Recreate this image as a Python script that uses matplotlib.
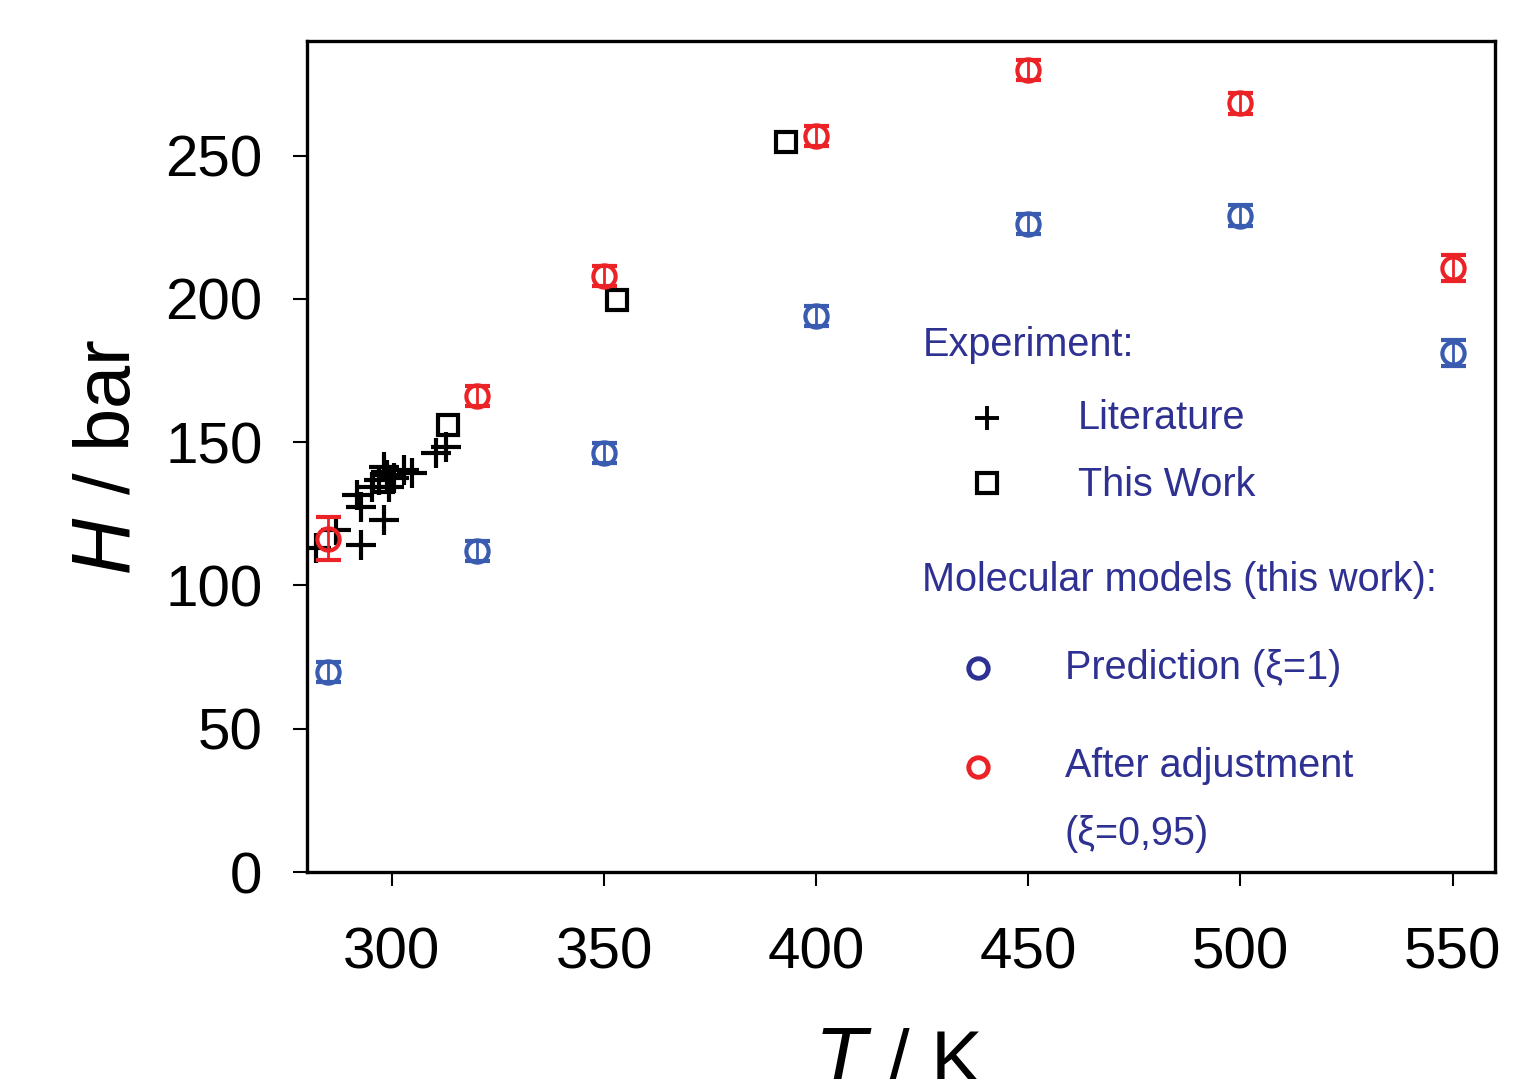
import matplotlib
matplotlib.use("Agg")
import matplotlib.pyplot as plt

plt.rcParams["font.family"] = ["Liberation Sans", "DejaVu Sans"]

# Experiment: literature values (crosses)
lit_T = [282.1, 286.8, 292.7, 298.1, 291.7, 292.7, 295.3, 298.1, 296.9, 299.3, 300.5, 298.8, 302.8, 304.7, 310.4, 312.7]
lit_H = [113.1, 119.4, 114.2, 122.9, 131.6, 127.4, 134.4, 141.4, 136.9, 134.4, 137.6, 138.6, 140.4, 139.3, 146.3, 148.4]

# Experiment: this work (squares)
exp_T = [298.0, 313.2, 353.1, 393.0]
exp_H = [136.0, 156.1, 199.7, 254.9]

# Molecular models
sim_T = [285, 320, 350, 400, 450, 500, 550]
pred_H = [69.8, 112.1, 146.3, 194.1, 226.3, 229.1, 181.2]
pred_err = [3.5, 3.5, 3.5, 3.5, 3.5, 3.5, 4.5]
adj_H = [116.3, 166.2, 208.1, 257.0, 280.0, 268.2, 210.9]
adj_err = [7.5, 3.5, 3.5, 3.5, 3.5, 3.5, 4.5]

blue = "#3a5cb0"
red = "#ec2326"
navy = "#2e3192"

fig = plt.figure(figsize=(15.33, 10.79), dpi=100)
ax = fig.add_axes([0.2003, 0.1918, 0.7749, 0.7702])

ax.plot(lit_T, lit_H, "+", color="black", markersize=22, markeredgewidth=3, linestyle="none")
ax.plot(exp_T, exp_H, "s", color="black", markerfacecolor="none", markersize=15, markeredgewidth=3, linestyle="none")
ax.errorbar(sim_T, pred_H, yerr=pred_err, fmt="o", color=blue, ecolor=blue, markerfacecolor="none",
            markersize=16, markeredgewidth=3, elinewidth=2, capsize=9, capthick=2.4)
ax.errorbar(sim_T, adj_H, yerr=adj_err, fmt="o", color=red, ecolor=red, markerfacecolor="none",
            markersize=16, markeredgewidth=3, elinewidth=2, capsize=9, capthick=2.4)

ax.set_xlim(280, 560)
ax.set_ylim(0, 290)
ax.set_xticks([300, 350, 400, 450, 500, 550])
ax.set_yticks([0, 50, 100, 150, 200, 250])
for s in ax.spines.values():
    s.set_linewidth(2.4)
ax.tick_params(axis="x", direction="out", length=10, width=1.5, pad=29, labelsize=42)
ax.tick_params(axis="y", direction="out", length=10, width=1.5, pad=22, labelsize=42)

ax.set_xlabel(r"$T$ / K", fontsize=56, labelpad=34)
ax.set_ylabel(r"$H$ / bar", fontsize=56, labelpad=14)

# custom legend
tk = dict(transform=ax.transAxes, fontsize=28.5, color=navy, va="center", ha="left")
ax.text(0.518, 0.634, "Experiment:", **tk)
ax.plot([0.572], [0.546], "+", transform=ax.transAxes, color="black", markersize=17, markeredgewidth=2.8)
ax.text(0.649, 0.546, "Literature", **tk)
ax.plot([0.572], [0.468], "s", transform=ax.transAxes, color="black", markerfacecolor="none", markersize=14, markeredgewidth=3)
ax.text(0.649, 0.466, "This Work", **tk)
ax.text(0.518, 0.352, "Molecular models (this work):", **tk)
ax.plot([0.565], [0.245], "o", transform=ax.transAxes, color=navy, markerfacecolor="none", markersize=14, markeredgewidth=3.5)
ax.text(0.638, 0.245, "Prediction (ξ=1)", **tk)
ax.plot([0.565], [0.126], "o", transform=ax.transAxes, color=red, markerfacecolor="none", markersize=14, markeredgewidth=3.5)
ax.text(0.638, 0.128, "After adjustment", **tk)
ax.text(0.638, 0.046, "(ξ=0,95)", **tk)

fig.savefig("out.png", dpi=100)
